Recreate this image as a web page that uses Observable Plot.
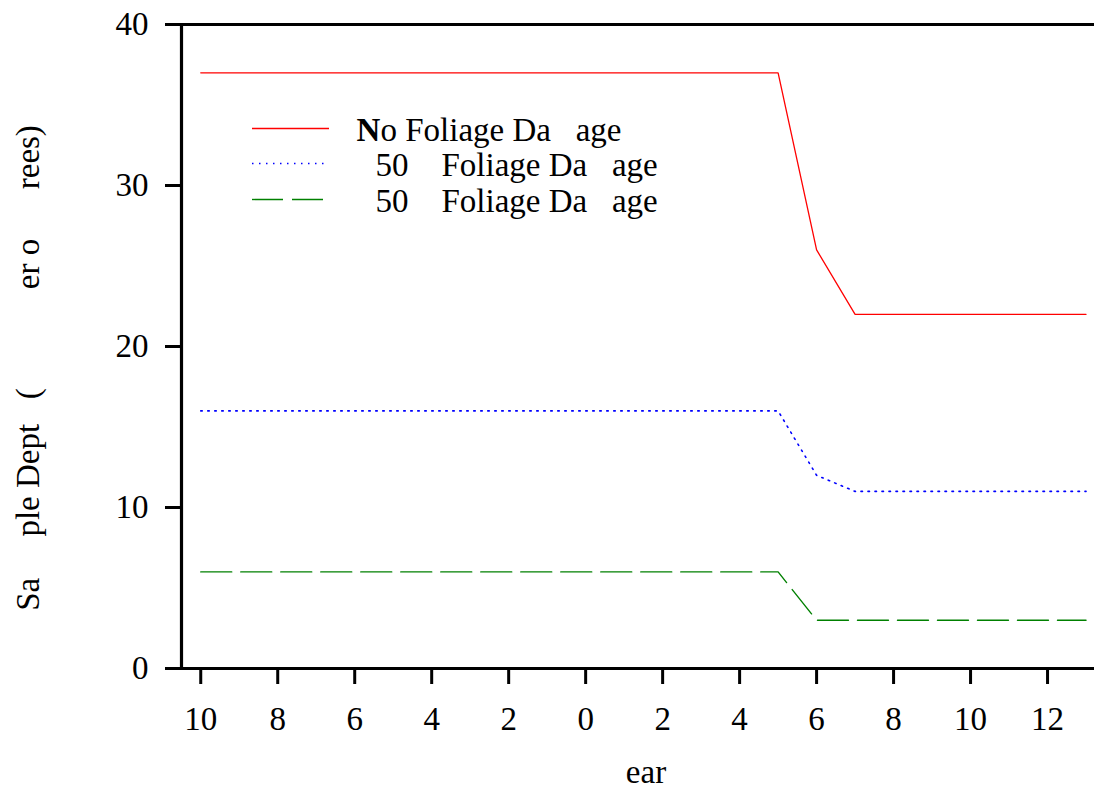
<!DOCTYPE html>
<html>
<head>
<meta charset="utf-8">
<script src="https://cdn.jsdelivr.net/npm/d3@7"></script>
<script src="https://cdn.jsdelivr.net/npm/@observablehq/plot@0.6"></script>
<style>
  html, body { margin: 0; padding: 0; background: #fff; }
  #chart svg text { white-space: pre; }
</style>
</head>
<body>
<div id="chart"></div>
<script>
// ---- data ----
const years = [-10, 5, 6, 7, 13];
const noDamage = [37, 37, 26, 22, 22];
const lt50Damage = [16, 16, 12, 11, 11];
const gt50Damage = [6, 6, 3, 3, 3];

const xTicks = [-10, -8, -6, -4, -2, 0, 2, 4, 6, 8, 10, 12];
const xTickLabels = ["10", "8", "6", "4", "2", "0", "2", "4", "6", "8", "10", "12"];
const yTicks = [0, 10, 20, 30, 40];
const yTickLabels = ["0", "10", "20", "30", "40"];

const NB = "\u00a0";
const seriesNames = ["No Foliage Da" + NB.repeat(3) + "age", "50" + NB.repeat(4) + "Foliage Da" + NB.repeat(3) + "age", "50" + NB.repeat(4) + "Foliage Da" + NB.repeat(3) + "age"];
const seriesColors = ["#ff0000", "#0000ff", "#008000"];
const seriesDash = [null, "1.5,5.5", "31,9"];
const seriesWidth = [1.3, 1.6, 1.4];

const xLabel = "ear";
const yLabel = "Sa" + NB.repeat(5) + "ple Dept" + NB.repeat(3) + "(" + NB.repeat(12) + "er o" + NB.repeat(6) + "rees)";

// ---- build table ----
const seriesValues = [noDamage, lt50Damage, gt50Damage];
const rows = [];
seriesValues.forEach((vals, s) => {
  vals.forEach((v, i) => rows.push({series: s, year: years[i], value: v}));
});

const FS = 33;
const marks = [];

// data lines
seriesValues.forEach((vals, s) => {
  marks.push(Plot.line(rows.filter(r => r.series === s), {
    x: "year", y: "value",
    stroke: seriesColors[s],
    strokeWidth: seriesWidth[s],
    strokeDasharray: seriesDash[s],
    strokeLinejoin: "miter"
  }));
});

// frame lines
marks.push(Plot.ruleY([0, 40], {stroke: "#000", strokeWidth: 3.2, insetLeft: -16}));
marks.push(Plot.frame({anchor: "left", stroke: "#000", strokeWidth: 3.2}));

// axes
marks.push(Plot.axisX({
  ticks: xTicks, tickSize: 16, tickPadding: 22, strokeWidth: 3,
  tickFormat: (d) => xTickLabels[xTicks.indexOf(d)],
  fontSize: FS, label: null, fill: "#000"
}));
marks.push(Plot.axisY({
  ticks: yTicks, tickSize: 16, tickPadding: 17, strokeWidth: 3,
  tickFormat: (d) => yTickLabels[yTicks.indexOf(d)],
  fontSize: FS, label: null, fill: "#000"
}));

// axis titles
marks.push(Plot.text([xLabel], {
  frameAnchor: "bottom", dx: 8, dy: 104, text: d => d,
  fontSize: FS, lineAnchor: "middle", fill: "#000"
}));
marks.push(Plot.text([yLabel], {
  frameAnchor: "left", dx: -153, dy: 21.5, text: d => d, rotate: -90,
  fontSize: FS, lineAnchor: "middle", textAnchor: "middle", fill: "#000"
}));

// legend
const legendDy = [104, 139, 175];
seriesNames.forEach((name, s) => {
  marks.push(Plot.ruleY([40], {
    dy: legendDy[s], insetLeft: 71, insetRight: 765,
    stroke: seriesColors[s], strokeWidth: seriesWidth[s], strokeDasharray: seriesDash[s]
  }));
  if (s === 0) {
    marks.push(Plot.text(["N"], {
      frameAnchor: "top-left", dx: 175, dy: legendDy[s] + 2, text: d => d,
      fontSize: FS, fontWeight: "bold", textAnchor: "start", lineAnchor: "middle", fill: "#000"
    }));
    marks.push(Plot.text([name.slice(1)], {
      frameAnchor: "top-left", dx: 199, dy: legendDy[s] + 2, text: d => d,
      fontSize: FS, textAnchor: "start", lineAnchor: "middle", fill: "#000"
    }));
  } else {
    marks.push(Plot.text([name], {
      frameAnchor: "top-left", dx: 194, dy: legendDy[s] + 2, text: d => d,
      fontSize: FS, textAnchor: "start", lineAnchor: "middle", fill: "#000"
    }));
  }
});

const chart = Plot.plot({
  width: 1094,
  height: 790,
  marginLeft: 181,
  marginRight: 0,
  marginTop: 24,
  marginBottom: 122,
  style: {fontFamily: "'Liberation Serif', 'Times New Roman', serif", fontSize: FS + "px", background: "#fff", color: "#000", overflow: "visible"},
  x: {domain: [-10.5, 13.22]},
  y: {domain: [0, 40]},
  marks
});
document.getElementById("chart").appendChild(chart);
</script>
</body>
</html>
